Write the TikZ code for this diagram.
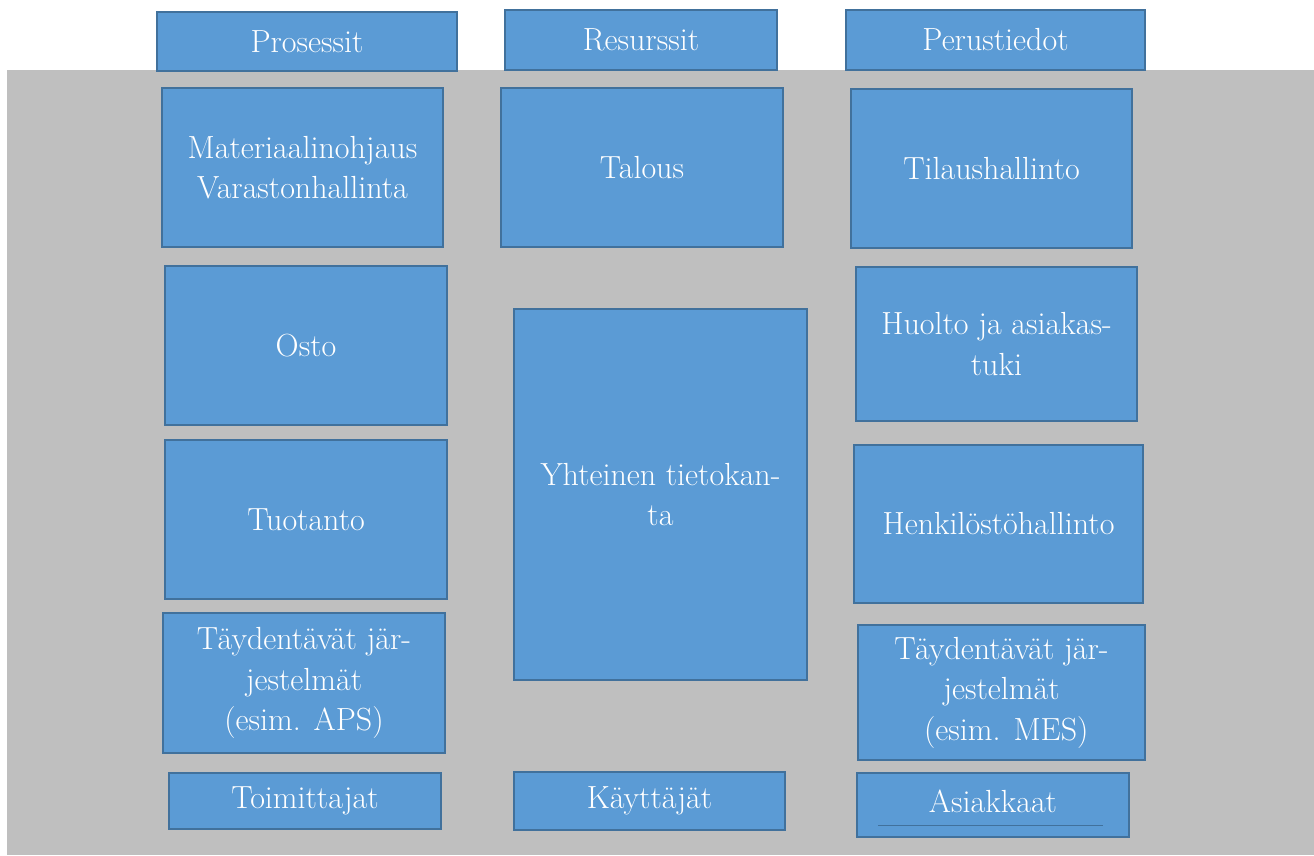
\documentclass[tikz,border=0pt]{standalone}
\usepackage{fontspec}
\definecolor{boxfill}{HTML}{5B9BD5}
\definecolor{boxline}{HTML}{41719C}
\definecolor{bggray}{HTML}{BFBFBF}
\begin{document}
\begin{tikzpicture}[x=1pt,y=-1pt,
  box/.style={draw=boxline, line width=2.2pt, fill=boxfill, text=white, align=center,
    inner sep=0pt, font=\fontsize{32}{40.5}\selectfont},
  lbl/.style={text=white, align=center, inner sep=0pt, font=\fontsize{32}{40.5}\selectfont}]
\useasboundingbox (0,0) rectangle (1314,855);
\fill[bggray] (7,70) rectangle (1314,855);
% headers
\node[box, minimum width=300, minimum height=59] (pros) at (307,41.5) {Prosessit};
\node[box, minimum width=272, minimum height=60] (res) at (641,40) {Resurssit};
\node[box, minimum width=299, minimum height=60] (perus) at (995.5,40) {Perustiedot};
% left column
\node[box, minimum width=281, minimum height=159] (mat) at (302.5,167.5) {Materiaalinohjaus\\Varastonhallinta};
\node[box, minimum width=282, minimum height=159] (osto) at (306,345.5) {Osto};
\node[box, minimum width=282, minimum height=159] (tuot) at (306,519.5) {Tuotanto};
\node[box, minimum width=282, minimum height=140] (tayl) at (304,683) {Täydentävät jär-\\jestelmät\\(esim. APS)};
\node[box, minimum width=272, minimum height=56] (toim) at (305,801) {Toimittajat};
% middle column
\node[box, minimum width=282, minimum height=159] (tal) at (642,167.5) {Talous};
\node[box, minimum width=293, minimum height=371] (yht) at (660.5,494.5) {Yhteinen tietokan-\\ta};
\node[box, minimum width=271, minimum height=58] (kayt) at (649.5,801) {Käyttäjät};
% right column
\node[box, minimum width=281, minimum height=159] (til) at (991.5,168.5) {Tilaushallinto};
\node[box, minimum width=281, minimum height=154] (huol) at (996.5,344) {Huolto ja asiakas-\\tuki};
\node[box, minimum width=289, minimum height=158] (henk) at (998.5,524) {Henkilöstöhallinto};
\node[box, minimum width=287, minimum height=135] (tayr) at (1001.5,692.5) {Täydentävät jär-\\jestelmät\\\ (esim. MES)};
\node[box, minimum width=272, minimum height=64] (asia) at (993,805) {};
\node[lbl] (asiat) at (993,801) {Asiakkaat};
\coordinate (ul1) at (878,825);
\coordinate (ul2) at (1103,825);
\draw[boxline, line width=0.8pt] (ul1) -- (ul2);
\end{tikzpicture}
\end{document}
